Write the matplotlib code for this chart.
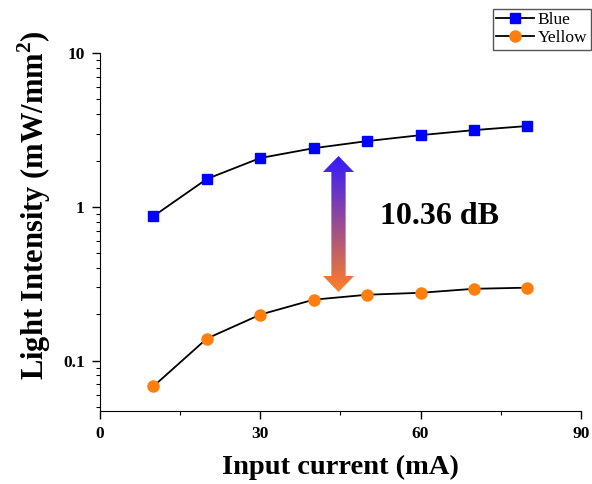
import numpy as np
import matplotlib
matplotlib.use("Agg")
import matplotlib.pyplot as plt
from matplotlib.ticker import FixedLocator, FixedFormatter, LogLocator, NullFormatter
from matplotlib.patches import Polygon

plt.rcParams['font.family'] = 'Liberation Serif'
plt.rcParams['font.weight'] = 'bold'
plt.rcParams['mathtext.fontset'] = 'custom'
plt.rcParams['mathtext.rm'] = 'Liberation Serif:bold'
plt.rcParams['mathtext.bf'] = 'Liberation Serif:bold'

current = [10, 20, 30, 40, 50, 60, 70, 80]
blue = [0.87, 1.52, 2.08, 2.41, 2.68, 2.93, 3.16, 3.36]
yellow = [0.068, 0.139, 0.199, 0.249, 0.268, 0.276, 0.293, 0.298]
gap_label = "10.36 dB"

fig = plt.figure(figsize=(5.92, 4.84), dpi=100)
ax = fig.add_axes([0.169, 0.151, 0.812, 0.739])

ax.plot(current, blue, '-', color='black', lw=1.3, marker='s', ms=7.5,
        mfc='#0000ff', mec='#0000ff', label='Blue')
ax.plot(current, yellow, '-', color='black', lw=1.3, marker='o', ms=8,
        mfc='#ff7f0e', mec='#ff7f0e', label='Yellow')

ax.set_yscale('log')
ax.set_xlim(0, 90)
ax.set_ylim(0.047, 10)
ax.xaxis.set_major_locator(FixedLocator([0, 30, 60, 90]))
ax.xaxis.set_minor_locator(FixedLocator([15, 45, 75]))
ax.yaxis.set_major_locator(FixedLocator([0.1, 1, 10]))
ax.yaxis.set_major_formatter(FixedFormatter(['0.1', '1', '10']))
ax.yaxis.set_minor_locator(LogLocator(base=10, subs=np.arange(2, 10)))
ax.yaxis.set_minor_formatter(NullFormatter())
for s in ['top', 'right']:
    ax.spines[s].set_visible(False)
ax.tick_params(which='major', direction='out', length=6, width=1, labelsize=12.5, pad=5)
ax.tick_params(which='minor', direction='out', length=3, width=0.8)
for lab in ax.get_xticklabels() + ax.get_yticklabels():
    lab.set_fontweight('bold')

ax.set_xlabel('Input current (mA)', fontsize=20.5, fontweight='bold', labelpad=9)
ax.set_ylabel(r'Light Intensity (mW/mm$^{\mathbf{2}}$)', fontsize=22, fontweight='bold')
ax.yaxis.set_label_coords(-0.097, 0.575)

ax.text(52.4, 0.86, gap_label, fontsize=23, fontweight='bold', va='center', ha='left')

# gradient double arrow
W, H = 592, 484
x0, x1 = 323 / W, 354 / W
y0, y1 = 1 - 292 / H, 1 - 156 / H
aax = fig.add_axes([x0, y0, x1 - x0, y1 - y0])
aax.set_axis_off()
aax.set_xlim(0, 1)
aax.set_ylim(0, 1)
top = np.array([0.2, 0.1, 1.0])
bot = np.array([1.0, 0.50, 0.15])
t = np.linspace(0, 1, 256)[:, None]
grad = (bot * (1 - t) + top * t)[:, None, :]
im = aax.imshow(grad, extent=[0, 1, 0, 1], origin='lower', aspect='auto')
hl = 16 / (292 - 156)
sw = 0.23
arrow = Polygon([(0.5, 1), (1, 1 - hl), (0.5 + sw, 1 - hl), (0.5 + sw, hl), (1, hl),
                 (0.5, 0), (0, hl), (0.5 - sw, hl), (0.5 - sw, 1 - hl), (0, 1 - hl)],
                closed=True, transform=aax.transData, facecolor='none', edgecolor='none')
aax.add_patch(arrow)
im.set_clip_path(arrow)

fig.legend(loc='upper right', bbox_to_anchor=(0.998, 0.982),
           frameon=True, fancybox=False, edgecolor='#555555', framealpha=1,
           handlelength=2.2, borderpad=0.2, labelspacing=0.1, handletextpad=0.2,
           borderaxespad=0, prop={'weight': 'normal', 'size': 12.5})

fig.savefig('out.png', dpi=100)
